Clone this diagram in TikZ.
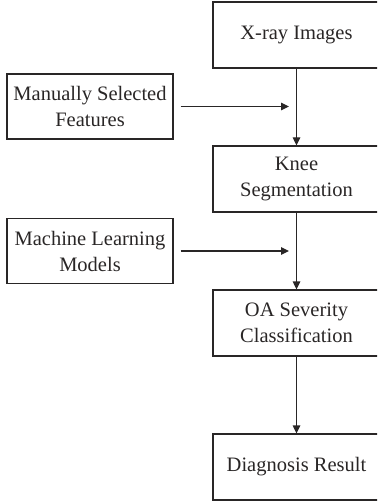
\documentclass[tikz,border=0pt]{standalone}
\usepackage{fontspec}
\setmainfont{Liberation Serif}
\usepackage{tikz}
\usetikzlibrary{arrows.meta}
\definecolor{ink}{rgb}{.16,.15,.15}

\tikzset{
  stage/.style={draw=ink, line width=1.2pt, text=ink, minimum width=167pt,
    minimum height=66pt, inner sep=0pt, align=center,
    font=\fontsize{20.5}{26}\selectfont},
  source/.style={stage, minimum width=166pt, minimum height=65pt},
  flow/.style={draw=ink, line width=1.2pt, -{Triangle[length=8pt,width=7.5pt]}}
}

\begin{document}
\begin{tikzpicture}[x=1pt,y=-1pt]
            \useasboundingbox (0,0) rectangle (377,502);
            \clip (0,0) rectangle (377,502);

            % Main stages
            \node[stage] (xray) at (296.5, 35) {X-ray Images};
            \node[stage] (knee) at (296.5, 179) {Knee\\Segmentation};
            \node[stage] (oa) at (296.5, 323) {OA Severity\\Classification};
            \node[stage] (diag) at (296.5, 467) {Diagnosis Result};

            % Side inputs
            \node[source] (manual) at (90, 106.5) {Manually Selected\\Features};
            \node[source] (ml) at (90, 251) {Machine Learning\\Models};

            % Arrow ends
            \coordinate (manualend) at (289, 106.5);
            \coordinate (mlend) at (289, 251);

            % Arrows
            \draw[flow] (xray) -- (knee);
            \draw[flow] (knee) -- (oa);
            \draw[flow] (oa) -- (diag);
            \draw[flow] ([xshift=7pt]manual.east) -- (manualend);
            \draw[flow] ([xshift=7pt]ml.east) -- (mlend);
        \end{tikzpicture}
\end{document}
